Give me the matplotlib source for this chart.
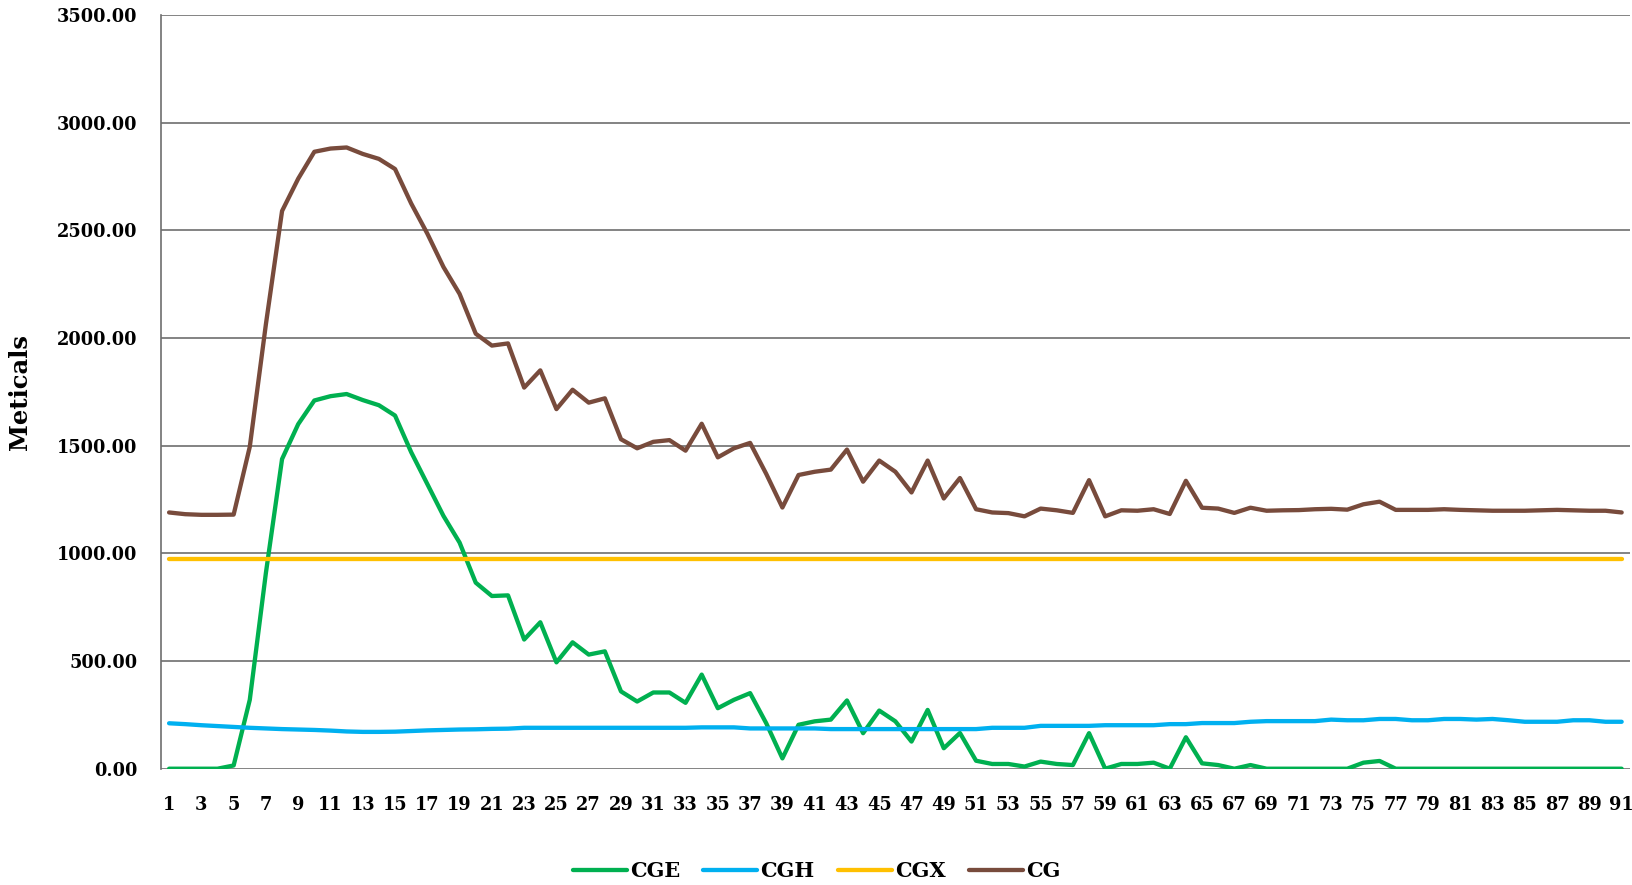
import matplotlib
matplotlib.use("Agg")

import matplotlib.pyplot as plt

# x categories 1..91
periods = list(range(1, 92))

cge = [0, 0, 0, 0, 15, 320, 910, 1438, 1600, 1710,
       1730, 1740, 1712, 1688, 1640, 1470, 1322, 1174, 1050, 864,
       802, 805, 600, 680, 494, 587, 530, 545, 359, 312,
       354, 354, 306, 437, 281, 320, 351, 211, 48, 204,
       220, 228, 317, 165, 270, 220, 126, 273, 95, 166,
       37, 22, 22, 10, 33, 22, 17, 165, 0, 22,
       22, 28, 0, 146, 25, 17, 0, 17, 0, 0,
       0, 0, 0, 0, 28, 36, 0, 0, 0, 0,
       0, 0, 0, 0, 0, 0, 0, 0, 0, 0,
       0]

cgh = [211, 207, 202, 198, 194, 190, 187, 184, 182, 180,
       177, 173, 171, 171, 172, 175, 178, 180, 182, 183,
       185, 186, 190, 190, 190, 190, 190, 190, 190, 190,
       190, 190, 190, 192, 192, 192, 187, 187, 187, 187,
       187, 184, 184, 184, 184, 184, 184, 184, 184, 184,
       184, 190, 190, 190, 199, 199, 199, 199, 202, 202,
       202, 202, 207, 207, 212, 212, 212, 218, 221, 221,
       221, 221, 228, 225, 225, 231, 231, 225, 225, 231,
       231, 228, 231, 225, 218, 218, 218, 225, 225, 218,
       218]

cgx = [972] * 91

cg = [1190, 1182, 1179, 1179, 1180, 1495, 2065, 2590, 2740, 2865,
      2880, 2885, 2855, 2832, 2785, 2625, 2485, 2330, 2205, 2020,
      1965, 1975, 1770, 1850, 1670, 1760, 1700, 1720, 1530, 1488,
      1518, 1526, 1477, 1602, 1446, 1488, 1513, 1369, 1213, 1364,
      1379, 1389, 1482, 1333, 1431, 1379, 1283, 1431, 1255, 1350,
      1205, 1190, 1187, 1172, 1208, 1200, 1188, 1340, 1172, 1200,
      1198, 1205, 1183, 1337, 1212, 1208, 1188, 1212, 1198, 1200,
      1201, 1205, 1207, 1203, 1228, 1240, 1202, 1202, 1202, 1205,
      1202, 1200, 1198, 1198, 1198, 1200, 1202, 1200, 1198, 1198,
      1190]

series = [
    ("CGE", cge, "#00B050"),
    ("CGH", cgh, "#00B0F0"),
    ("CGX", cgx, "#FFC000"),
    ("CG", cg, "#784B3C"),
]

y_ticks = [0, 500, 1000, 1500, 2000, 2500, 3000, 3500]

fig = plt.figure(figsize=(16.33, 8.85), dpi=100)
ax = fig.add_axes([0.0986, 0.1314, 0.8994, 0.8516])

for name, values, color in series:
    ax.plot(periods, values, color=color, lw=3.1, label=name,
            solid_capstyle="round", solid_joinstyle="round")

ax.set_xlim(0.5, 91.5)
ax.set_ylim(0, 3500)
ax.set_yticks(y_ticks)
ax.set_yticklabels([f"{v:.2f}" for v in y_ticks])
ax.set_xticks(periods[::2])
ax.set_xticklabels([str(p) for p in periods[::2]])

for lab in ax.get_xticklabels() + ax.get_yticklabels():
    lab.set_fontfamily("DejaVu Serif")
    lab.set_fontweight("bold")
    lab.set_fontsize(12.8)

ax.tick_params(axis="y", length=0, pad=17)
ax.tick_params(axis="x", length=0, pad=20)

ax.grid(True, axis="y", color="#6E6E6E", lw=1.2)
ax.set_axisbelow(True)
for side in ("top", "right", "bottom"):
    ax.spines[side].set_visible(False)
ax.spines["left"].set_color("#6E6E6E")
ax.spines["left"].set_linewidth(1.2)

ax.set_ylabel("Meticals", fontfamily="DejaVu Serif", fontweight="bold",
              fontsize=17.5)
ax.yaxis.set_label_coords(-0.088, 0.5)

fig.legend(loc="center", bbox_to_anchor=(0.5, 0.016), ncol=4, frameon=False,
           prop=dict(family="DejaVu Serif", weight="bold", size=15),
           handlelength=2.6, handletextpad=0.15, columnspacing=1.1)

fig.savefig("out.png", dpi=100)
plt.close(fig)
